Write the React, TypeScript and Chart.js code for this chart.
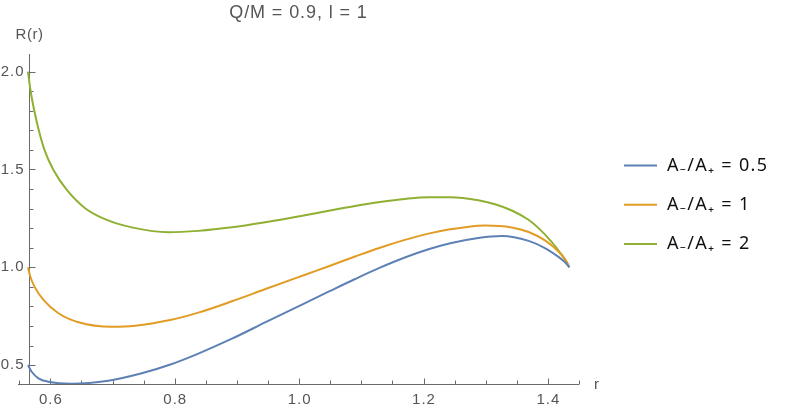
import React, { useEffect, useRef } from "react";
import { Chart, registerables } from "chart.js";

Chart.register(...registerables);

const titleText = "Q/M = 0.9, l = 1";
const yAxisTitle = "R(r)";
const xAxisTitle = "r";

const seriesLabels = ["A\u208B/A\u208A = 0.5", "A\u208B/A\u208A = 1", "A\u208B/A\u208A = 2"];
const seriesColors = ["#5E81B5", "#E19C24", "#8FB032"];

const rBlue = [0.5641, 0.570, 0.5809, 0.597, 0.6345, 0.693, 0.747, 0.793, 0.838, 0.892, 0.9453, 1.0096, 1.0498, 1.090, 1.130, 1.170, 1.208, 1.243, 1.288, 1.326, 1.369, 1.396, 1.417, 1.428, 1.4345];
const vBlue = [0.500, 0.466, 0.4325, 0.415, 0.405, 0.420, 0.458, 0.503, 0.559, 0.635, 0.718, 0.817, 0.879, 0.940, 0.998, 1.050, 1.092, 1.123, 1.150, 1.160, 1.135, 1.097, 1.053, 1.024, 1.000];

const rOrange = [0.5641, 0.5680, 0.5745, 0.5889, 0.613, 0.6452, 0.6989, 0.7363, 0.7926, 0.838, 0.892, 0.946, 1.0096, 1.0498, 1.090, 1.130, 1.170, 1.208, 1.243, 1.267, 1.299, 1.342, 1.369, 1.396, 1.417, 1.428, 1.4345];
const vOrange = [1.000, 0.950, 0.901, 0.833, 0.765, 0.719, 0.696, 0.701, 0.730, 0.768, 0.826, 0.889, 0.962, 1.008, 1.055, 1.100, 1.140, 1.172, 1.194, 1.205, 1.213, 1.203, 1.180, 1.136, 1.080, 1.038, 1.000];

const rGreen = [0.5641, 0.5680, 0.5745, 0.5810, 0.5905, 0.6050, 0.6265, 0.6559, 0.6908, 0.731, 0.790, 0.838, 0.892, 0.9453, 1.0096, 1.0498, 1.090, 1.130, 1.170, 1.208, 1.243, 1.288, 1.315, 1.342, 1.3687, 1.385, 1.406, 1.4196, 1.4287, 1.4345];
const vGreen = [2.000, 1.906, 1.796, 1.705, 1.600, 1.497, 1.395, 1.302, 1.242, 1.204, 1.179, 1.186, 1.204, 1.230, 1.266, 1.290, 1.313, 1.333, 1.349, 1.358, 1.358, 1.343, 1.322, 1.290, 1.243, 1.200, 1.130, 1.075, 1.035, 1.000];

const xTickLabels = [0.6, 0.8, 1.0, 1.2, 1.4];
const yTickLabels = [0.5, 1.0, 1.5, 2.0];
const xMinorStep = 0.05;
const yMinorStep = 0.1;

const xMin = 0.548;
const xMax = 1.450;
const yMin = 0.4034;
const yMax = 2.09;
const axisOriginR = 0.5652;

const toPoints = (rs: number[], vs: number[]) => rs.map((r, i) => ({ x: r, y: vs[i] }));

const axesPlugin = {
  id: "mmaAxes",
  beforeDatasetsDraw(chart: any) {
    const { ctx } = chart;
    const xs = chart.scales.x;
    const ys = chart.scales.y;
    const axisY = Math.round(ys.getPixelForValue(yMin)) + 0.5;
    const axisX = Math.round(xs.getPixelForValue(axisOriginR)) + 0.5;
    ctx.save();
    ctx.strokeStyle = "#6a6a6a";
    ctx.lineWidth = 1;
    ctx.beginPath();
    ctx.moveTo(xs.left, axisY);
    ctx.lineTo(xs.right, axisY);
    ctx.moveTo(axisX, ys.bottom);
    ctx.lineTo(axisX, ys.top);
    const kx0 = Math.ceil(xMin / xMinorStep - 1e-9);
    const kx1 = Math.floor(xMax / xMinorStep + 1e-9);
    for (let k = kx0; k <= kx1; k++) {
      const v = k * xMinorStep;
      const major = xTickLabels.some((t) => Math.abs(t - v) < 1e-6);
      const px = Math.round(xs.getPixelForValue(v)) + 0.5;
      ctx.moveTo(px, axisY);
      ctx.lineTo(px, axisY - (major ? 6 : 4));
    }
    const ky0 = Math.ceil(yMin / yMinorStep - 1e-9);
    const ky1 = Math.floor(yMax / yMinorStep + 1e-9);
    for (let k = ky0; k <= ky1; k++) {
      const v = k * yMinorStep;
      const major = yTickLabels.some((t) => Math.abs(t - v) < 1e-6);
      const py = Math.round(ys.getPixelForValue(v)) + 0.5;
      ctx.moveTo(axisX, py);
      ctx.lineTo(axisX + (major ? 6 : 4), py);
    }
    ctx.stroke();

    ctx.fillStyle = "#555555";
    ctx.font = "15px 'Liberation Sans', Arial, sans-serif";
    (ctx as any).letterSpacing = "1px";
    ctx.textAlign = "center";
    ctx.textBaseline = "middle";
    xTickLabels.forEach((t) => {
      ctx.fillText(t.toFixed(1), xs.getPixelForValue(t) + 0.5, axisY + 15);
    });
    ctx.textAlign = "right";
    yTickLabels.forEach((t) => {
      ctx.fillText(t.toFixed(1), axisX - 5, ys.getPixelForValue(t));
    });
    (ctx as any).letterSpacing = "0.5px";
    ctx.textAlign = "center";
    ctx.fillText(yAxisTitle, axisX, ys.top - 19);
    ctx.textAlign = "left";
    ctx.fillText(xAxisTitle, xs.right + 15, axisY);

    ctx.font = "18px 'Liberation Sans', Arial, sans-serif";
    (ctx as any).letterSpacing = "0.9px";
    ctx.textAlign = "center";
    ctx.fillText(titleText, (xs.left + xs.right) / 2, 13);
    (ctx as any).letterSpacing = "0px";
    ctx.restore();
  },
  afterDraw(chart: any) {
    const { ctx } = chart;
    ctx.save();
    const lx0 = 624;
    const ly0 = 165.5;
    const gap = 39.3;
    ctx.font = "18px 'Noto Sans', 'DejaVu Sans', sans-serif";
    (ctx as any).letterSpacing = "1.3px";
    ctx.textBaseline = "middle";
    ctx.textAlign = "left";
    chart.data.datasets.forEach((ds: any, i: number) => {
      const y = ly0 + i * gap;
      ctx.strokeStyle = ds.borderColor;
      ctx.lineWidth = 2;
      ctx.beginPath();
      ctx.moveTo(lx0, y);
      ctx.lineTo(lx0 + 33, y);
      ctx.stroke();
      ctx.fillStyle = "#111111";
      ctx.fillText(ds.label, lx0 + 43, y);
    });
    (ctx as any).letterSpacing = "0px";
    ctx.restore();
  },
};

export default function App() {
  const ref = useRef<HTMLCanvasElement | null>(null);
  useEffect(() => {
    document.body.style.margin = "0";
    const canvas = ref.current;
    if (!canvas) return;
    const mk = (i: number, rs: number[], vs: number[]) => ({
      label: seriesLabels[i],
      data: toPoints(rs, vs),
      borderColor: seriesColors[i],
      backgroundColor: seriesColors[i],
      borderWidth: 2,
      pointRadius: 0,
      fill: false,
      cubicInterpolationMode: "monotone" as const,
    });
    const chart = new Chart(canvas, {
      type: "line",
      data: {
        datasets: [mk(0, rBlue, vBlue), mk(1, rOrange, vOrange), mk(2, rGreen, vGreen)],
      },
      options: {
        responsive: false,
        animation: false,
        devicePixelRatio: 1,
        layout: { padding: { left: 18, top: 54, right: 213, bottom: 26 } },
        plugins: { legend: { display: false }, title: { display: false }, tooltip: { enabled: false } },
        scales: {
          x: { type: "linear", min: xMin, max: xMax, display: false },
          y: { type: "linear", min: yMin, max: yMax, display: false },
        },
      },
      plugins: [axesPlugin],
    });
    return () => chart.destroy();
  }, []);
  return (
    <div style={{ width: 792, height: 410, position: "relative", background: "#fff" }}>
      <canvas ref={ref} width={792} height={410} style={{ display: "block" }} />
    </div>
  );
}
